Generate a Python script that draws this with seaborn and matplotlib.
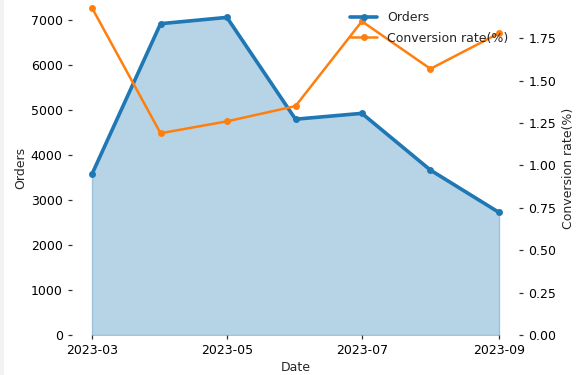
import matplotlib
matplotlib.use("Agg")
import matplotlib.pyplot as plt
import matplotlib.dates as mdates
from matplotlib.patches import Rectangle
from matplotlib.ticker import FormatStrFormatter
import seaborn as sns
import pandas as pd

# Monthly figures
months = ["2023-03", "2023-04", "2023-05", "2023-06", "2023-07", "2023-08", "2023-09"]
orders = [3570, 6910, 7050, 4790, 4920, 3660, 2720]
conversion_rate = [1.93, 1.19, 1.26, 1.35, 1.85, 1.57, 1.78]

df = pd.DataFrame({
    "Date": pd.to_datetime(months),
    "Orders": orders,
    "Conversion rate(%)": conversion_rate,
})

sns.set_theme(style="white")
plt.rcParams["font.family"] = ["DejaVu Sans"]

blue = "#1f77b4"
orange = "#ff7f0e"
tick_color = "#333333"
fs = 9

fig = plt.figure(figsize=(5.8, 3.75), dpi=100)
ax = fig.add_axes([71.6 / 580, 40 / 375, 447.8 / 580, 333.5 / 375])

ax.fill_between(df["Date"], 0, df["Orders"], color=blue, alpha=0.32, linewidth=1)
sns.lineplot(data=df, x="Date", y="Orders", ax=ax, color=blue, linewidth=2.6,
             marker="o", markersize=5, markeredgewidth=0, label="Orders", legend=False)

ax2 = ax.twinx()
sns.lineplot(data=df, x="Date", y="Conversion rate(%)", ax=ax2, color=orange, linewidth=1.8,
             marker="o", markersize=5, markeredgewidth=0, label="Conversion rate(%)", legend=False)

ax.set_ylim(bottom=0)
ax2.set_ylim(bottom=0)
ax.set_yticks(range(0, 8000, 1000))
ax2.set_yticks([0, 0.25, 0.5, 0.75, 1.0, 1.25, 1.5, 1.75])
ax2.yaxis.set_major_formatter(FormatStrFormatter("%.2f"))

ax.xaxis.set_major_locator(mdates.MonthLocator(bymonth=[3, 5, 7, 9]))
ax.xaxis.set_major_formatter(mdates.DateFormatter("%Y-%m"))

for a in (ax, ax2):
    for s in a.spines.values():
        s.set_visible(False)
tick_kw = dict(labelsize=fs, colors=tick_color, labelcolor="black", length=3.2, width=0.9, pad=3.2)
ax.tick_params(axis="x", bottom=True, **tick_kw)
ax.tick_params(axis="y", left=True, **tick_kw)
ax2.tick_params(axis="y", right=True, **tick_kw)

ax.set_xlabel("Date", fontsize=fs, labelpad=3)
ax.set_ylabel("Orders", fontsize=fs, labelpad=2.5)
ax2.set_ylabel("Conversion rate(%)", fontsize=fs)

h1, l1 = ax.get_legend_handles_labels()
h2, l2 = ax2.get_legend_handles_labels()
ax2.legend(h1 + h2, l1 + l2, loc="upper left", bbox_to_anchor=(341 / 580, 1.0 - 2.5 / 375),
           bbox_transform=fig.transFigure, frameon=False, fontsize=fs,
           handlelength=2.2, borderaxespad=0.3, labelspacing=0.6, handletextpad=0.8)

fig.patches.append(Rectangle((0, 0), 4 / 580, 1, transform=fig.transFigure,
                             facecolor="#f3f3f3", edgecolor="none"))

fig.savefig("out.png", dpi=100)
